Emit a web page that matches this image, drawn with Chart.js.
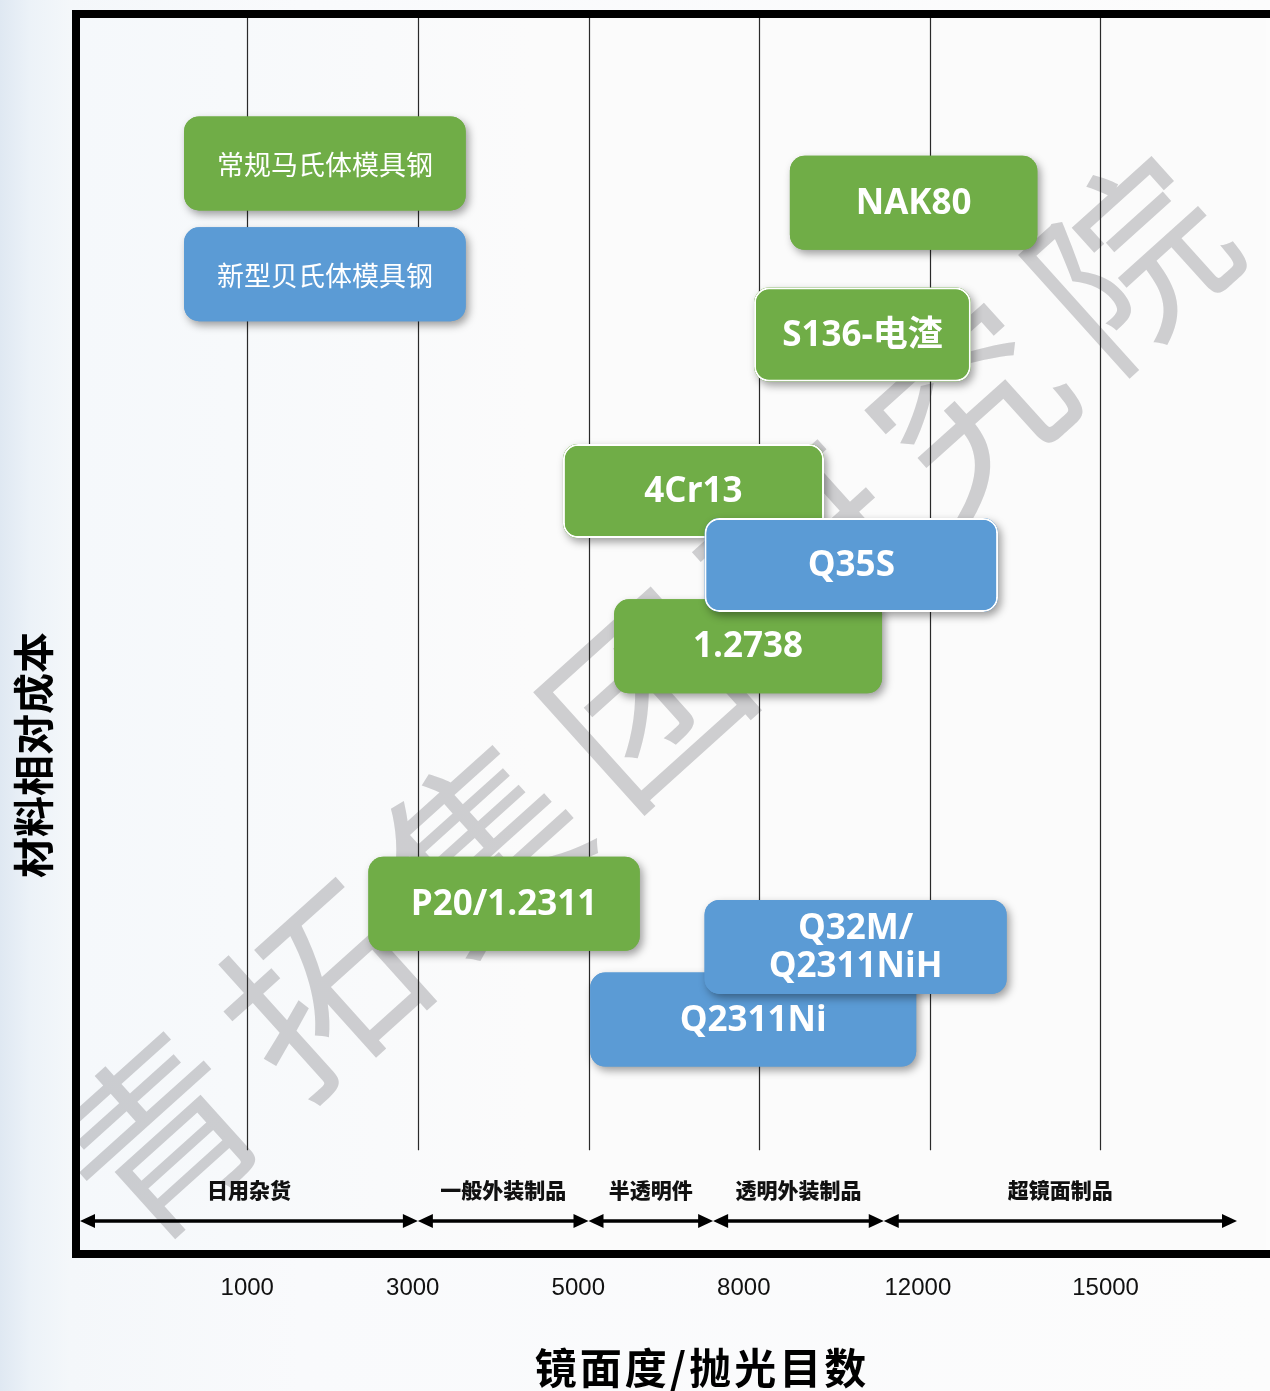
<!DOCTYPE html>
<html>
<head>
<meta charset="utf-8">
<script src="https://cdn.jsdelivr.net/npm/chart.js@4.4.0/dist/chart.umd.min.js"></script>
<style>
    body {
        margin: 0;
        background: linear-gradient(90deg, #dfe8f2 0px, #ecf2f8 30px, #f4f7fa 70px, #f9fafc 300px, #fcfcfc 100%);
    }
    #wrap {
        width: 1270px;
        height: 1391px;
    }
</style>
</head>
<body>
<div id="wrap">
    <canvas id="chartMapa" width="1270" height="1391"></canvas>
</div>
<script>
// eixo x: posicoes das faixas de polimento (1..6 = linhas de grade)
const gradeX = [1, 2, 3, 4, 5, 6];
const ticksTexto = ['1000', '3000', '5000', '8000', '12000', '15000'];
const ticksPos = [1.0, 1.97, 2.94, 3.91, 4.93, 6.03];

// faixas de aplicacao (setas duplas)
const faixasNome = ['日用杂货', '一般外装制品', '半透明件', '透明外装制品', '超镜面制品'];
const faixasLimite = [0.02, 2.0, 3.0, 3.73, 4.73, 6.8];

// caixas de aco: inicio/fim no eixo x, custo relativo (0-100)
const acoNome = ['常规马氏体模具钢', '新型贝氏体模具钢', 'NAK80', 'S136-电渣', '4Cr13', '1.2738', 'Q35S', 'P20/1.2311', 'Q2311Ni', 'Q32M/\nQ2311NiH'];
const acoInicio = [0.63, 0.63, 4.18, 3.97, 2.85, 3.15, 3.68, 1.71, 3.01, 3.68];
const acoFim = [2.28, 2.28, 5.63, 5.24, 4.38, 4.72, 5.40, 3.30, 4.92, 5.45];
const acoCusto = [88.2, 79.2, 85.0, 74.3, 61.6, 49.0, 55.6, 28.1, 18.7, 24.6];
const acoTipo = ['马氏体', '贝氏体', '马氏体', '马氏体', '马氏体', '马氏体', '贝氏体', '马氏体', '贝氏体', '贝氏体'];

const corTipo = { '马氏体': '#70AD47', '贝氏体': '#5B9BD5' };
const comBorda = ['S136-电渣', '4Cr13', 'Q35S'];

const fonteCJK = '"Noto Sans CJK SC", "Noto Sans", sans-serif';
const fonteBold = '"Open Sans", "Noto Sans CJK SC", sans-serif';

function temCJK(txt) {
    return /^[\u4e00-\u9fff]+$/.test(txt);
}

// fundo da area do grafico
const pluginFundo = {
    id: 'fundo',
    beforeDraw(chart) {
        const ctx = chart.ctx;
        const a = chart.chartArea;
        ctx.save();
        const g = ctx.createLinearGradient(a.left, 0, a.left + 450, 0);
        g.addColorStop(0, '#f5f8fb');
        g.addColorStop(1, '#fbfbfb');
        ctx.fillStyle = g;
        ctx.fillRect(a.left, a.top, a.right - a.left, a.bottom - a.top);
        ctx.restore();
    }
};

// marca d'agua, grade, setas e faixas
const pluginGrade = {
    id: 'grade',
    beforeDatasetsDraw(chart) {
        const ctx = chart.ctx;
        const a = chart.chartArea;
        const x = chart.scales.x;
        const y = chart.scales.y;

        // marca d'agua
        ctx.save();
        ctx.beginPath();
        ctx.rect(a.left, a.top, a.right - a.left, a.bottom - a.top);
        ctx.clip();
        ctx.translate(x.getPixelForValue(3.33), y.getPixelForValue(44.8));
        ctx.rotate(-42 * Math.PI / 180);
        ctx.fillStyle = 'rgba(150,150,156,0.45)';
        ctx.font = 'normal 190px ' + fonteCJK;
        ctx.textAlign = 'center';
        ctx.textBaseline = 'middle';
        const marca = '青拓集团研究院';
        for (let i = 0; i < marca.length; i++) {
            ctx.fillText(marca[i], (i - 3) * 218, 0);
        }
        ctx.restore();

        // linhas de grade verticais
        ctx.save();
        ctx.strokeStyle = '#2a2a2a';
        ctx.lineWidth = 1.2;
        const yFim = y.getPixelForValue(8.1);
        gradeX.forEach(v => {
            const px = Math.round(x.getPixelForValue(v)) + 0.5;
            ctx.beginPath();
            ctx.moveTo(px, a.top);
            ctx.lineTo(px, yFim);
            ctx.stroke();
        });
        ctx.restore();

        // setas duplas e nomes das faixas
        ctx.save();
        const ySeta = y.getPixelForValue(2.35);
        const yTexto = y.getPixelForValue(4.87);
        ctx.strokeStyle = '#000';
        ctx.fillStyle = '#000';
        ctx.lineWidth = 3.5;
        for (let i = 0; i < faixasNome.length; i++) {
            const x1 = x.getPixelForValue(faixasLimite[i]);
            const x2 = x.getPixelForValue(faixasLimite[i + 1]);
            ctx.beginPath();
            ctx.moveTo(x1 + 10, ySeta);
            ctx.lineTo(x2 - 10, ySeta);
            ctx.stroke();
            ctx.beginPath();
            ctx.moveTo(x1, ySeta);
            ctx.lineTo(x1 + 15, ySeta - 7);
            ctx.lineTo(x1 + 15, ySeta + 7);
            ctx.closePath();
            ctx.fill();
            ctx.beginPath();
            ctx.moveTo(x2, ySeta);
            ctx.lineTo(x2 - 15, ySeta - 7);
            ctx.lineTo(x2 - 15, ySeta + 7);
            ctx.closePath();
            ctx.fill();

            ctx.font = '900 21px ' + fonteCJK;
            ctx.textAlign = 'center';
            ctx.textBaseline = 'middle';
            ctx.fillStyle = '#111';
            ctx.fillText(faixasNome[i], (x1 + x2) / 2, yTexto);
            ctx.fillStyle = '#000';
        }
        ctx.restore();
    }
};

// caixas com sombra e texto
const pluginCaixas = {
    id: 'caixas',
    beforeDatasetDraw(chart, args) {
        const ctx = chart.ctx;
        const meta = args.meta;
        meta.data.forEach((barra, i) => {
            const p = barra.getProps(['x', 'y', 'base', 'height'], true);
            const esq = Math.min(p.x, p.base);
            const dir = Math.max(p.x, p.base);
            const topo = p.y - p.height / 2;

            ctx.save();
            ctx.shadowColor = 'rgba(0,0,0,0.38)';
            ctx.shadowBlur = 8;
            ctx.shadowOffsetX = 3;
            ctx.shadowOffsetY = 4;
            ctx.fillStyle = barra.options.backgroundColor;
            ctx.beginPath();
            ctx.roundRect(esq, topo, dir - esq, p.height, 15);
            ctx.fill();
            ctx.restore();

            barra.draw(ctx, chart.chartArea);

            const nome = acoNome[i];
            ctx.save();
            ctx.fillStyle = '#fff';
            ctx.textAlign = 'center';
            ctx.textBaseline = 'middle';
            if (temCJK(nome)) {
                ctx.font = 'normal 27px ' + fonteCJK;
            } else {
                ctx.font = 'bold 35px ' + fonteBold;
            }
            const linhas = nome.split('\n');
            const cx = (esq + dir) / 2;
            linhas.forEach((l, k) => {
                const off = (k - (linhas.length - 1) / 2) * 38;
                ctx.fillText(l, cx, p.y + off + 1);
            });
            ctx.restore();
        });
        return false;
    }
};

// moldura, ticks e titulos
const pluginMoldura = {
    id: 'moldura',
    afterDraw(chart) {
        const ctx = chart.ctx;
        const a = chart.chartArea;
        const x = chart.scales.x;

        ctx.save();
        ctx.strokeStyle = '#000';
        ctx.lineWidth = 8;
        ctx.strokeRect(a.left - 4, a.top - 4, a.right - a.left + 20, a.bottom - a.top + 8);
        ctx.restore();

        ctx.save();
        ctx.fillStyle = '#111';
        ctx.font = '24px "Liberation Sans", Arial, sans-serif';
        ctx.textAlign = 'center';
        ctx.textBaseline = 'middle';
        ticksTexto.forEach((t, i) => {
            ctx.fillText(t, x.getPixelForValue(ticksPos[i]), a.bottom + 38);
        });
        ctx.restore();

        ctx.save();
        ctx.fillStyle = '#000';
        ctx.font = 'bold 42px ' + fonteCJK;
        ctx.textAlign = 'center';
        ctx.textBaseline = 'middle';
        ctx.letterSpacing = '3px';
        ctx.fillText('镜面度/抛光目数', 702, 1368);
        ctx.restore();

        ctx.save();
        ctx.fillStyle = '#000';
        ctx.font = 'bold 41px ' + fonteCJK;
        ctx.textAlign = 'center';
        ctx.textBaseline = 'middle';
        ctx.translate(33, 755);
        ctx.rotate(-Math.PI / 2);
        ctx.fillText('材料相对成本', 0, 0);
        ctx.restore();
    }
};

const dadosCaixas = acoNome.map((n, i) => ({ x: [acoInicio[i], acoFim[i]], y: acoCusto[i] }));

const ctxMapa = document.getElementById('chartMapa');
var chartMapa = new Chart(ctxMapa, {
    type: 'bar',
    data: {
        datasets: [{
            label: '模具钢',
            data: dadosCaixas,
            backgroundColor: acoTipo.map(t => corTipo[t]),
            borderColor: '#ffffff',
            borderWidth: acoNome.map(n => comBorda.includes(n) ? 2 : 0),
            borderRadius: 15,
            borderSkipped: false,
            barThickness: 94,
            inflateAmount: 0
        }]
    },
    options: {
        indexAxis: 'y',
        responsive: false,
        animation: false,
        events: [],
        layout: {
            padding: { left: 80, top: 18, right: 4, bottom: 141 }
        },
        plugins: {
            legend: { display: false },
            tooltip: { enabled: false }
        },
        scales: {
            x: {
                type: 'linear',
                min: 0.02,
                max: 6.97,
                offset: false,
                display: false
            },
            y: {
                type: 'linear',
                min: 0,
                max: 100,
                offset: false,
                display: false
            }
        }
    },
    plugins: [pluginFundo, pluginGrade, pluginCaixas, pluginMoldura]
});
</script>
</body>
</html>
